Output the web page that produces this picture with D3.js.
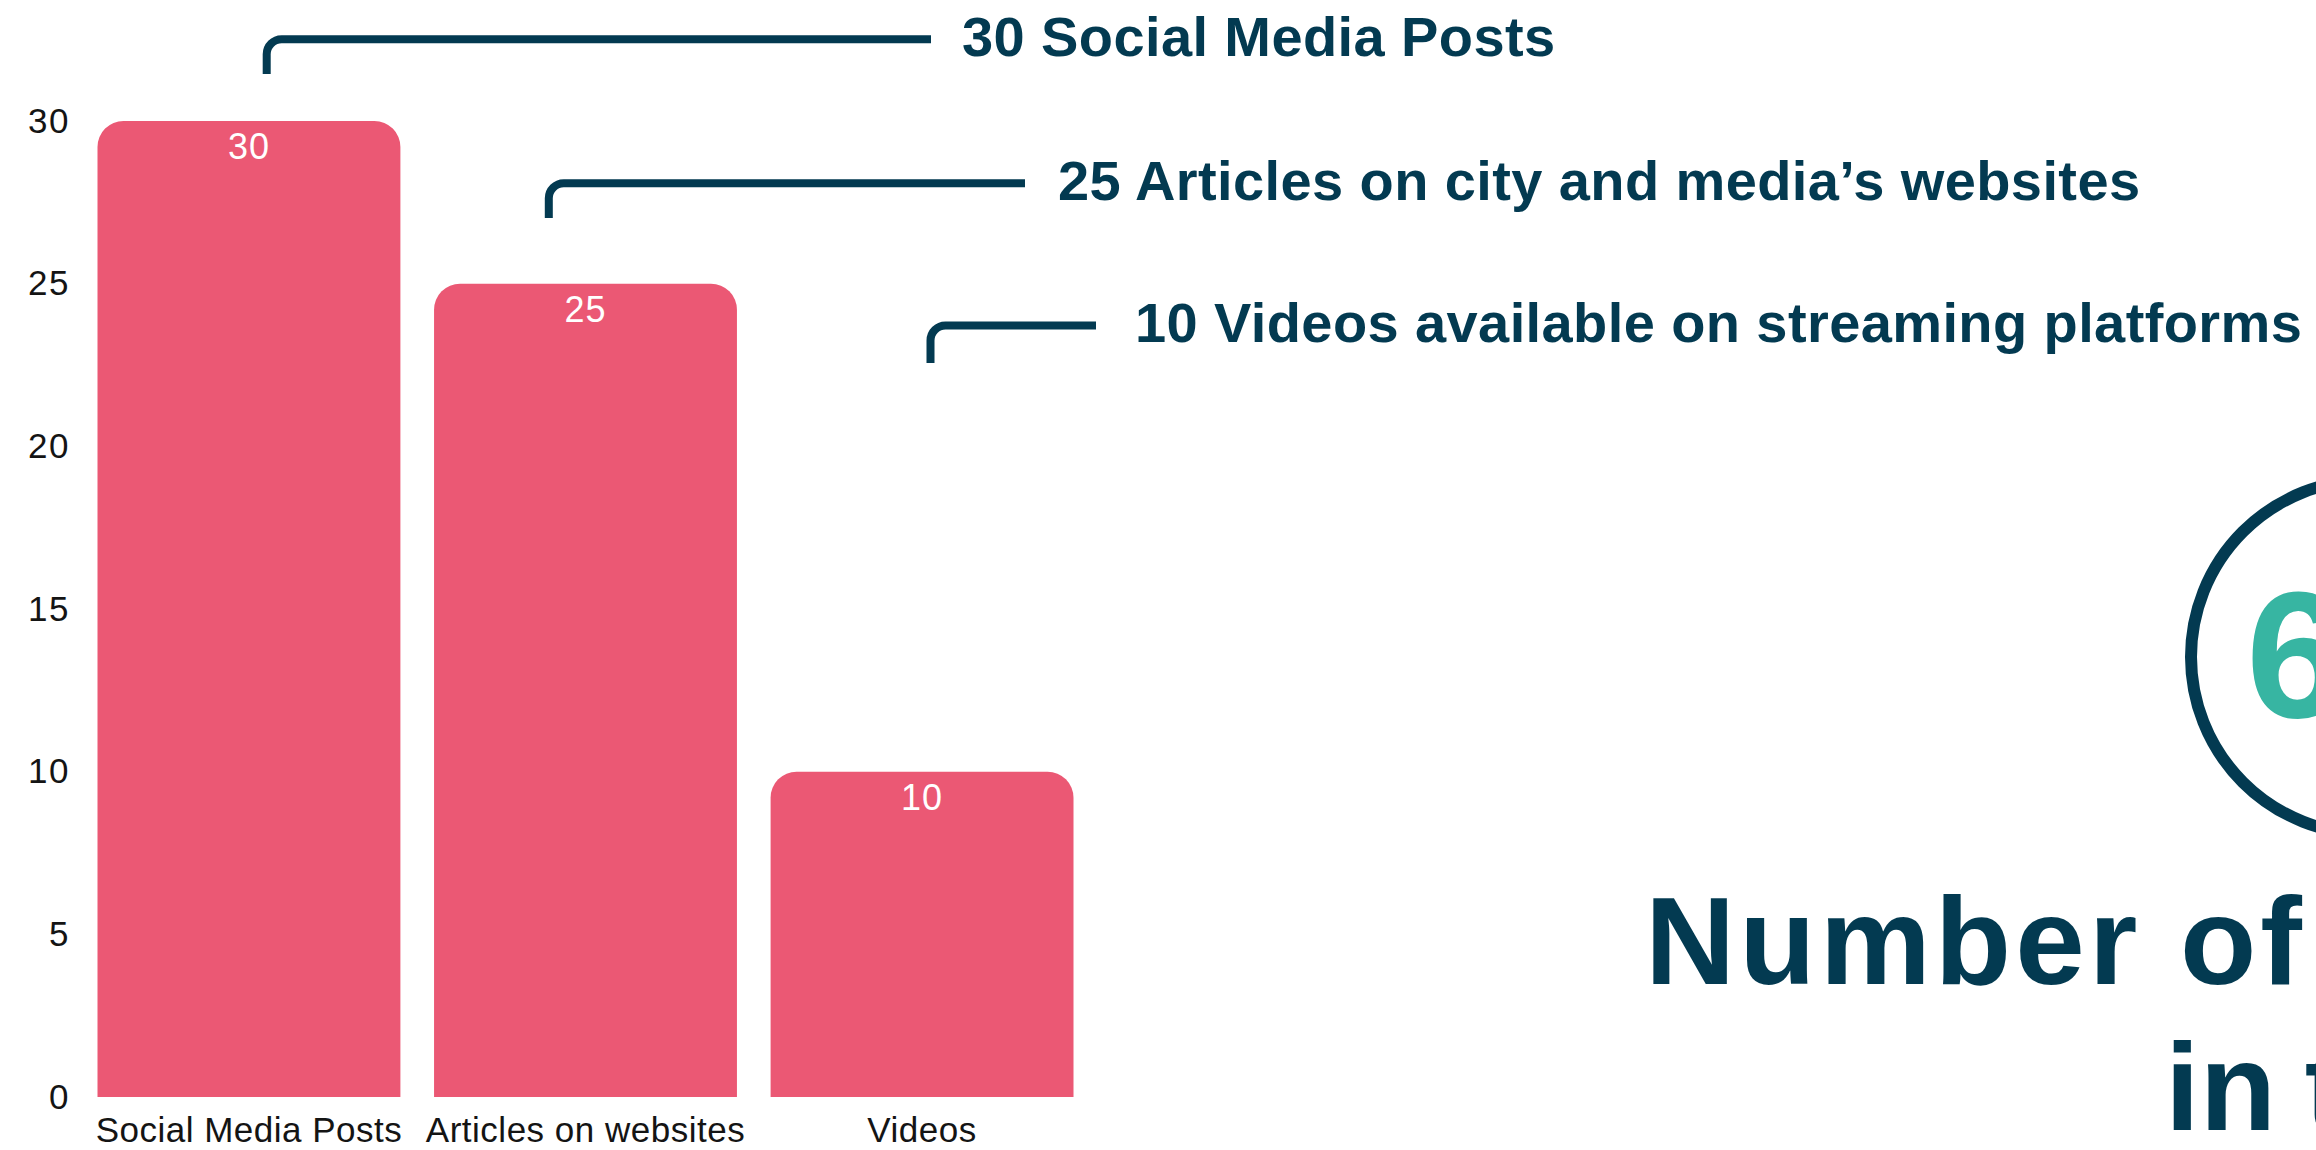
<!DOCTYPE html>
<html>
<head>
<meta charset="utf-8">
<script src="https://cdn.jsdelivr.net/npm/d3@7"></script>
<style>
  html, body { margin: 0; padding: 0; background: #ffffff; overflow: hidden; }
  svg { display: block; }
</style>
</head>
<body>
<svg id="chart" width="2316" height="1150"></svg>
<script>
// ---- data ----
const categories = ["Social Media Posts", "Articles on websites", "Videos"];
const values = [30, 25, 10];
const yTicks = [0, 5, 10, 15, 20, 25, 30];
const calloutTexts = [
  "30 Social Media Posts",
  "25 Articles on city and media\u2019s websites",
  "10 Videos available on streaming platforms"
];
const totalValue = "65";
const titleLines = ["Number of publications", "in total"];

// ---- layout / style ----
const W = 2316, H = 1150;
const colors = { bar: "#EB5874", navy: "#033A51", teal: "#37B5A2", text: "#141414" };
const FONT = "'Liberation Sans', Arial, Helvetica, sans-serif";
const callouts = [
  { x0: 266.7, y0: 74, yLine: 39.3, x1: 931, tx: 962, ty: 56 },
  { x0: 548.8, y0: 218, yLine: 183.3, x1: 1025, tx: 1058, ty: 200 },
  { x0: 930.5, y0: 363, yLine: 325.5, x1: 1096, tx: 1135, ty: 341.7 }
];

const svg = d3.select("#chart");

const x = d3.scaleBand().domain(categories).range([97.5, 1073.5]).paddingInner(0.1).paddingOuter(0);
const y = d3.scaleLinear().domain([0, 30]).range([1097, 121]);

// bars with rounded top corners
function topRounded(x0, y0, w, h, r) {
  const p = d3.path();
  r = Math.min(r, w / 2, h);
  p.moveTo(x0, y0 + h);
  p.lineTo(x0, y0 + r);
  p.arcTo(x0, y0, x0 + r, y0, r);
  p.lineTo(x0 + w - r, y0);
  p.arcTo(x0 + w, y0, x0 + w, y0 + r, r);
  p.lineTo(x0 + w, y0 + h);
  p.closePath();
  return p.toString();
}

const data = categories.map((c, i) => ({ c, v: values[i] }));

svg.append("g").selectAll("path").data(data).join("path")
  .attr("d", d => topRounded(x(d.c), y(d.v), x.bandwidth(), y(0) - y(d.v), 26))
  .attr("fill", colors.bar);

svg.append("g").selectAll("text").data(data).join("text")
  .attr("x", d => x(d.c) + x.bandwidth() / 2)
  .attr("y", d => y(d.v) + 38)
  .attr("text-anchor", "middle")
  .attr("fill", "#ffffff")
  .style("font-family", FONT)
  .style("font-size", "36px")
  .style("letter-spacing", "1px")
  .text(d => d.v);

// y axis
const yAxis = svg.append("g")
  .attr("transform", "translate(80,0)")
  .call(d3.axisLeft(y).tickValues(yTicks).tickSize(0).tickPadding(10));
yAxis.select(".domain").remove();
yAxis.selectAll("text")
  .attr("fill", colors.text)
  .style("font-family", FONT)
  .style("font-size", "35px")
  .style("letter-spacing", "1.5px");

// x axis
const xAxis = svg.append("g")
  .attr("transform", `translate(0,${y(0)})`)
  .call(d3.axisBottom(x).tickSize(0).tickPadding(20));
xAxis.select(".domain").remove();
xAxis.selectAll("text")
  .attr("fill", colors.text)
  .style("font-family", FONT)
  .style("font-size", "35px")
  .style("letter-spacing", "0.5px");

// callouts
const cg = svg.append("g");
callouts.forEach((c, i) => {
  const r = 15;
  const p = d3.path();
  p.moveTo(c.x0, c.y0);
  p.lineTo(c.x0, c.yLine + r);
  p.arcTo(c.x0, c.yLine, c.x0 + r, c.yLine, r);
  p.lineTo(c.x1, c.yLine);
  cg.append("path")
    .attr("d", p.toString())
    .attr("fill", "none")
    .attr("stroke", colors.navy)
    .attr("stroke-width", 8);
  cg.append("text")
    .attr("x", c.tx)
    .attr("y", c.ty)
    .attr("fill", colors.navy)
    .style("font-family", FONT)
    .style("font-weight", "bold")
    .style("font-size", "56px")
    .style("letter-spacing", "0.4px")
    .text(calloutTexts[i]);
});

// total circle
svg.append("circle")
  .attr("cx", 2368).attr("cy", 657).attr("r", 177)
  .attr("fill", "none")
  .attr("stroke", colors.navy)
  .attr("stroke-width", 12);
svg.append("text")
  .attr("x", 2246).attr("y", 717)
  .attr("fill", colors.teal)
  .style("font-family", FONT)
  .style("font-weight", "bold")
  .style("font-size", "180px")
  .text(totalValue);

// title
const tg = svg.append("g");
tg.append("text")
  .attr("x", 1645).attr("y", 984)
  .attr("fill", colors.navy)
  .style("font-family", FONT)
  .style("font-weight", "bold")
  .style("font-size", "125px")
  .style("letter-spacing", "4px")
  .text(titleLines[0]);
tg.append("text")
  .attr("x", 2165).attr("y", 1130)
  .attr("fill", colors.navy)
  .style("font-family", FONT)
  .style("font-weight", "bold")
  .style("font-size", "125px")
  .style("word-spacing", "-6px")
  .text(titleLines[1]);
</script>
</body>
</html>
